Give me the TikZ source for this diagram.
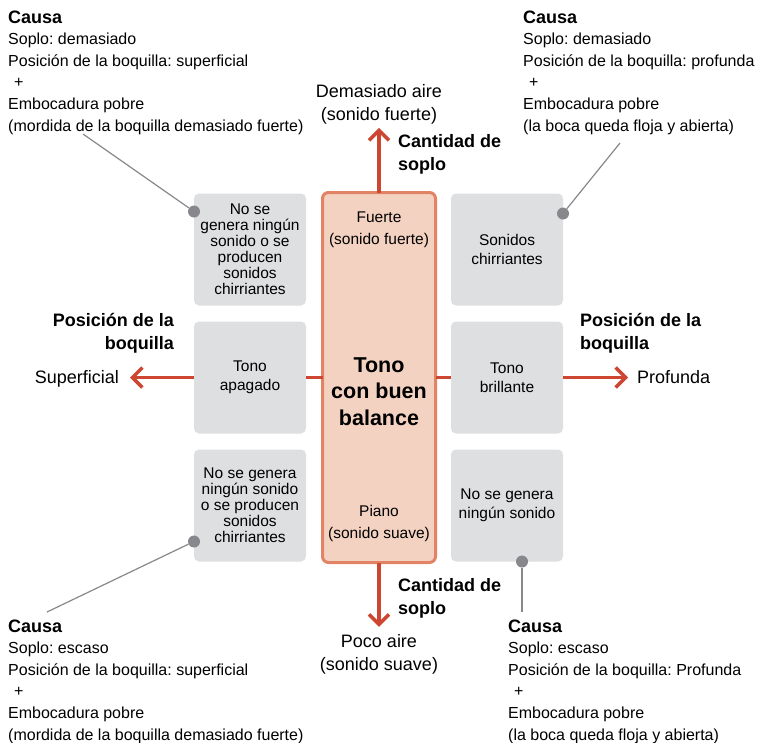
\documentclass[tikz,border=0pt]{standalone}
\usepackage{fontspec}
\setmainfont{Liberation Sans}
\usepackage{xcolor}
\usepackage{tikz}
\usetikzlibrary{positioning,calc,arrows.meta}
\frenchspacing

\definecolor{boxgray}{RGB}{222,223,225}
\definecolor{mainfill}{RGB}{244,210,193}
\definecolor{mainedge}{RGB}{226,131,102}
\definecolor{arrowred}{RGB}{205,70,50}
\definecolor{pingray}{RGB}{135,135,140}

\begin{document}
\begin{tikzpicture}[x=1pt, y=-1pt,
    graybox/.style={rectangle, fill=boxgray, rounded corners=5pt, minimum width=112pt, minimum height=112pt, inner sep=0pt, outer sep=0pt, align=center, font=\fontsize{15.5}{18.5}\selectfont},
    tightbox/.style={graybox, font=\fontsize{15.5}{16}\selectfont},
    mainbox/.style={rectangle, draw=mainedge, line width=3pt, fill=mainfill, rounded corners=6pt, minimum width=113pt, minimum height=370pt, outer sep=0pt},
    intext/.style={align=center, inner sep=0pt, anchor=base, font=\fontsize{15.5}{22}\selectfont},
    titlelbl/.style={align=center, inner sep=0pt, anchor=base, font=\fontsize{21.5}{26.5}\selectfont\bfseries},
    axislbl/.style={align=center, inner sep=0pt, font=\fontsize{18}{23}\selectfont},
    axishead/.style={inner sep=0pt, font=\fontsize{18}{22.5}\selectfont\bfseries},
    causa/.style={align=left, inner sep=0pt, anchor=base west, font=\fontsize{16}{21.6}\selectfont},
    redline/.style={draw=arrowred, line width=3.5pt},
    redarrow/.style={redline, -{Straight Barb[length=10pt,width=20pt]}},
    pin/.style={circle, fill=pingray, minimum size=12pt, inner sep=0pt},
    pinline/.style={draw=pingray, line width=1.2pt}
]
    \useasboundingbox (0,0) rectangle (757,742);

    % central column and the six boxes
    \node[mainbox] (ctr) at (379,377.5) {};
    \node[graybox, left=16.5pt of ctr] (ml) {Tono\\apagado};
    \node[graybox, right=15.5pt of ctr] (mr) {Tono\\brillante};
    \node[tightbox, above=16pt of ml] (tl) {No se\\genera ningún\\sonido o se\\producen\\sonidos\\chirriantes};
    \node[graybox, above=16pt of mr] (tr) {Sonidos\\chirriantes};
    \node[tightbox, below=16pt of ml] (bl) {No se genera\\ningún sonido\\o se producen\\sonidos\\chirriantes};
    \node[graybox, below=16pt of mr] (br) {No se genera\\ningún sonido};

    \node[intext] (fuerte) at (379,244) {Fuerte\\(sonido fuerte)};
    \node[titlelbl] (tono) at (379,425) {Tono\\con buen\\balance};
    \node[intext] (piano) at (379,538) {Piano\\(sonido suave)};

    % axis labels
    \node[axislbl, anchor=base] (mucho) at (379,120) {Demasiado aire\\(sonido fuerte)};
    \node[axislbl, anchor=base] (poco) at (379,670) {Poco aire\\(sonido suave)};
    \node[axislbl, anchor=base east] (superficial) at (119,383) {Superficial};
    \node[axislbl, anchor=base west] (profunda) at (637,383) {Profunda};
    \node[axishead, align=left, anchor=base west] (soploup) at (398,170) {Cantidad de\\soplo};
    \node[axishead, align=left, anchor=base west] (soplodown) at (398,614) {Cantidad de\\soplo};
    \node[axishead, align=right, anchor=base east] (posleft) at (174,349) {Posición de la\\boquilla};
    \node[axishead, align=left, anchor=base west] (posright) at (580,349) {Posición de la\\boquilla};

    % red axes
    \draw[redline] (ml.east) -- (ctr.west);
    \draw[redline] (ctr.east) -- (mr.west);
    \draw[redarrow, shorten >=4pt] (ctr.north) -- (mucho.south);
    \draw[redarrow, shorten >=7pt] (ctr.south) -- (poco.north);
    \draw[redarrow, shorten >=11pt] (ml.west) -- (ml.west -| superficial.east);
    \draw[redarrow, shorten >=9pt] (mr.east) -- (mr.east -| profunda.west);

    % causes
    \node[causa] (causatl) at (8,131) {{\bfseries\fontsize{18}{21.6}\selectfont Causa}\\Soplo: demasiado\\Posición de la boquilla: superficial\\\hspace*{6pt}+\\Embocadura pobre\\(mordida de la boquilla demasiado fuerte)};
    \node[causa] (causatr) at (523,131) {{\bfseries\fontsize{18}{21.6}\selectfont Causa}\\Soplo: demasiado\\Posición de la boquilla: profunda\\\hspace*{6pt}+\\Embocadura pobre\\(la boca queda floja y abierta)};
    \node[causa] (causabl) at (8,740) {{\bfseries\fontsize{18}{21.6}\selectfont Causa}\\Soplo: escaso\\Posición de la boquilla: superficial\\\hspace*{6pt}+\\Embocadura pobre\\(mordida de la boquilla demasiado fuerte)};
    \node[causa] (causabr) at (508,740) {{\bfseries\fontsize{18}{21.6}\selectfont Causa}\\Soplo: escaso\\Posición de la boquilla: Profunda\\\hspace*{6pt}+\\Embocadura pobre\\(la boca queda floja y abierta)};

    % pins
    \node[pin] (pintl) at ([yshift=38pt]tl.west) {};
    \node[pin] (pintr) at ([yshift=36pt]tr.east) {};
    \node[pin] (pinbl) at ([yshift=-36pt]bl.west) {};
    \node[pin] (pinbr) at ([xshift=15pt]br.south) {};
    \coordinate (endtl) at (83,134);
    \coordinate (endtr) at (620,143);
    \coordinate (endbl) at (47,612);
    \coordinate (endbr) at (pinbr |- 0,612);
    \draw[pinline] (endtl) -- (pintl);
    \draw[pinline] (endtr) -- (pintr);
    \draw[pinline] (endbl) -- (pinbl);
    \draw[pinline] (endbr) -- (pinbr);
\end{tikzpicture}
\end{document}
